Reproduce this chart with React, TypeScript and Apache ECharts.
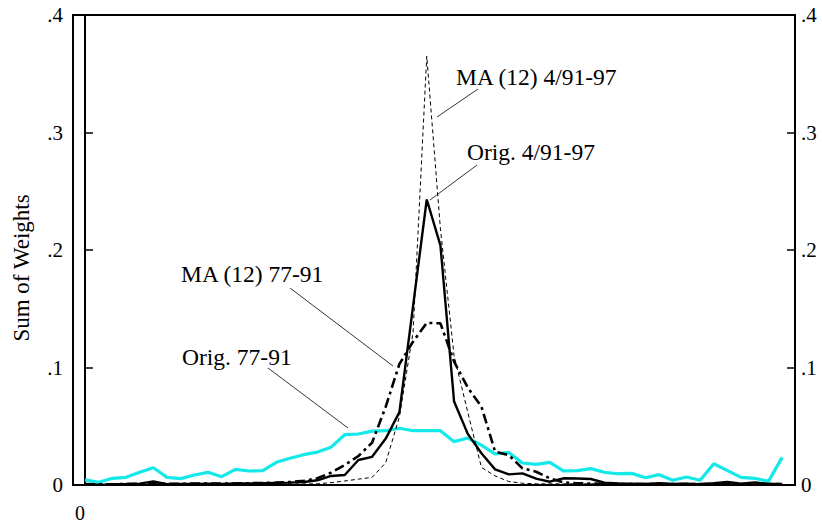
import React, { useEffect, useRef } from "react";
import * as echarts from "echarts";

// Lags (index positions along the horizontal axis)
const lagCount = 52;

// Orig. 77-91 (cyan)
const orig7791 = [
  0.0043, 0.0023, 0.0057, 0.0065, 0.0108, 0.0147, 0.0065, 0.0054, 0.0085, 0.0108,
  0.0071, 0.0133, 0.0119, 0.0122, 0.0193, 0.0227, 0.0258, 0.028, 0.0322, 0.0428,
  0.0434, 0.0458, 0.0462, 0.0483, 0.0462, 0.0462, 0.0462, 0.0369, 0.04, 0.0339,
  0.0264, 0.0277, 0.0187, 0.0176, 0.0193, 0.012, 0.0122, 0.0139, 0.0108, 0.0096,
  0.0099, 0.0062, 0.0088, 0.004, 0.0068, 0.004, 0.0181, 0.0122, 0.0065, 0.0057,
  0.0031, 0.0235,
];

// Orig. 4/91-97 (solid black)
const orig9197 = [
  0.0005, 0.0003, 0.0005, 0.0008, 0.0012, 0.003, 0.0006, 0.0008, 0.001, 0.0012,
  0.001, 0.0014, 0.0013, 0.0015, 0.0018, 0.002, 0.0025, 0.004, 0.0077, 0.0085,
  0.0213, 0.024, 0.0395, 0.062, 0.1525, 0.243, 0.204, 0.071, 0.0435, 0.027,
  0.0133, 0.009, 0.0099, 0.0054, 0.0028, 0.0057, 0.0055, 0.0051, 0.002, 0.0014,
  0.0012, 0.001, 0.0015, 0.0008, 0.0012, 0.0006, 0.0015, 0.0025, 0.0012, 0.0022,
  0.001, 0.0008,
];

// MA (12) 77-91 (dash-dot black)
const ma7791 = [
  0.0008, 0.0005, 0.0006, 0.0008, 0.001, 0.0012, 0.001, 0.001, 0.0012, 0.0013,
  0.0012, 0.0013, 0.0015, 0.0017, 0.002, 0.0025, 0.0035, 0.0057, 0.0105, 0.017,
  0.0247, 0.036, 0.0667, 0.103, 0.122, 0.138, 0.1376, 0.105, 0.083, 0.0667,
  0.0284, 0.0255, 0.0142, 0.0113, 0.0057, 0.0022, 0.0015, 0.0012, 0.001, 0.0009,
  0.0008, 0.0008, 0.0008, 0.0008, 0.0008, 0.0008, 0.0008, 0.0008, 0.0008, 0.0008,
  0.0008, 0.0008,
];

// MA (12) 4/91-97 (thin dashed black)
const ma9197 = [
  0.0005, 0.0005, 0.0005, 0.0005, 0.0005, 0.0005, 0.0005, 0.0005, 0.0005, 0.0005,
  0.0005, 0.0005, 0.0006, 0.0006, 0.0007, 0.0008, 0.0009, 0.001, 0.002, 0.0034,
  0.005, 0.0065, 0.019, 0.058, 0.13, 0.365, 0.218, 0.11, 0.062, 0.015,
  0.0077, 0.003, 0.0015, 0.001, 0.001, 0.001, 0.001, 0.001, 0.001, 0.001,
  0.001, 0.001, 0.001, 0.001, 0.001, 0.001, 0.001, 0.001, 0.001, 0.001,
  0.001, 0.001,
];

const yTicks = [0, 0.1, 0.2, 0.3, 0.4];
const yTickLabels = ["0", ".1", ".2", ".3", ".4"];
const xTickLabel = "0";
const yTitle = "Sum of Weights";
const annotations = [
  { text: "MA (12) 4/91-97", x: 456, y: 77, line: [478, 89, 437, 117] },
  { text: "Orig. 4/91-97", x: 467, y: 152, line: [477, 165, 430, 200] },
  { text: "MA (12) 77-91", x: 181, y: 274, line: [290, 288, 393, 366] },
  { text: "Orig. 77-91", x: 182, y: 357, line: [268, 368, 348, 428] },
];

const FONT = '"Liberation Serif", "Times New Roman", serif';

function toPairs(arr: number[]) {
  return arr.slice(0, lagCount).map((v, i) => [i, v]);
}

function yLabel(v: number) {
  const idx = yTicks.findIndex((t) => Math.abs(t - v) < 1e-9);
  return idx >= 0 ? yTickLabels[idx] : "";
}

export default function App() {
  const ref = useRef<HTMLDivElement>(null);

  useEffect(() => {
    if (!ref.current) return;
    const chart = echarts.init(ref.current, null, { renderer: "svg" });

    const yAxisCommon = {
      type: "value" as const,
      min: 0,
      max: 0.4,
      interval: 0.1,
      axisLine: { show: true, lineStyle: { color: "#000", width: 2 } },
      axisTick: { show: true, inside: true, length: 8, lineStyle: { color: "#000", width: 1.5 } },
      splitLine: { show: false },
      axisLabel: {
        formatter: yLabel,
        color: "#000",
        fontFamily: FONT,
        fontSize: 21,
      },
    };

    const graphics: any[] = [];
    annotations.forEach((a) => {
      graphics.push({
        type: "text",
        x: a.x,
        y: a.y,
        style: {
          text: a.text,
          font: `23.5px ${FONT}`,
          fill: "#000",
          textAlign: "left",
          textVerticalAlign: "middle",
        },
      });
      graphics.push({
        type: "line",
        shape: { x1: a.line[0], y1: a.line[1], x2: a.line[2], y2: a.line[3] },
        style: { stroke: "#000", lineWidth: 0.8 },
      });
    });
    graphics.push({
      type: "text",
      x: 21,
      y: 268,
      rotation: Math.PI / 2,
      style: {
        text: yTitle,
        font: `23px ${FONT}`,
        fill: "#000",
        textAlign: "center",
        textVerticalAlign: "middle",
      },
    });
    graphics.push({
      type: "text",
      x: 80,
      y: 513,
      style: {
        text: xTickLabel,
        font: `20px ${FONT}`,
        fill: "#000",
        textAlign: "center",
        textVerticalAlign: "middle",
      },
    });

    chart.setOption({
      animation: false,
      backgroundColor: "#fff",
      grid: {
        left: 73,
        right: 27,
        top: 15,
        bottom: 42,
        show: true,
        borderColor: "#000",
        borderWidth: 2,
        backgroundColor: "transparent",
      },
      xAxis: {
        type: "value",
        min: -0.88,
        max: 51.94,
        axisLine: { show: true, onZero: false, lineStyle: { color: "#000", width: 2 } },
        axisTick: { show: false },
        axisLabel: { show: false },
        splitLine: { show: false },
      },
      yAxis: [
        { ...yAxisCommon, position: "left", axisLabel: { ...yAxisCommon.axisLabel, margin: 10 } },
        { ...yAxisCommon, position: "right", axisLabel: { ...yAxisCommon.axisLabel, margin: 6 } },
      ],
      series: [
        {
          name: "Orig. 77-91",
          type: "line",
          data: toPairs(orig7791),
          symbol: "none",
          lineStyle: { color: "#14E8E8", width: 3.2 },
          z: 2,
        },
        {
          name: "MA (12) 4/91-97",
          type: "line",
          data: toPairs(ma9197),
          symbol: "none",
          lineStyle: { color: "#000", width: 1, type: [4, 3] },
          z: 3,
        },
        {
          name: "MA (12) 77-91",
          type: "line",
          data: toPairs(ma7791),
          symbol: "none",
          lineStyle: { color: "#000", width: 2.6, type: [10, 4, 3, 4] },
          z: 4,
        },
        {
          name: "Orig. 4/91-97",
          type: "line",
          data: toPairs(orig9197),
          symbol: "none",
          lineStyle: { color: "#000", width: 2.4 },
          z: 5,
        },
      ],
      graphic: graphics,
    });

    return () => chart.dispose();
  }, []);

  return <div ref={ref} style={{ width: 822, height: 527, position: "absolute", left: 0, top: 0 }} />;
}
